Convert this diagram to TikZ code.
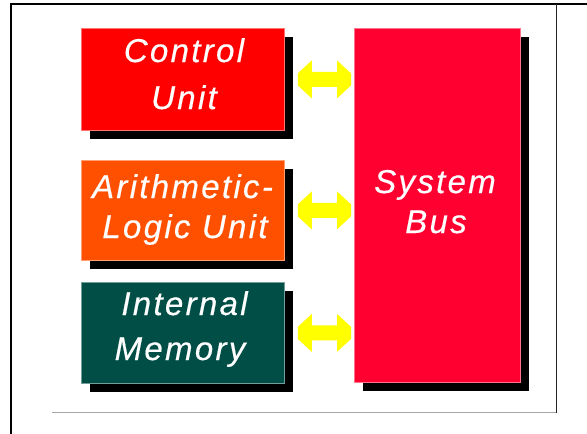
\documentclass[tikz,border=0pt]{standalone}
\usepackage{fontspec}
\setmainfont{Liberation Sans}
\usetikzlibrary{calc,shadows}
\definecolor{cured}{HTML}{FF0000}
\definecolor{alured}{HTML}{FF5000}
\definecolor{memteal}{HTML}{004E46}
\definecolor{busred}{HTML}{FF0030}
\definecolor{arrowyel}{HTML}{FFFF00}
\newcommand\busarrow[2]{%
  \fill[arrowfill] let \p1=(#1.east), \p2=(#2.west) in
   (\x1+13pt,\y1+6pt) -- (\x1+27pt,\y1+19pt) -- (\x1+27pt,\y1+7.5pt) -- (\x2-17pt,\y1+7.5pt)
   -- (\x2-17pt,\y1+19pt) -- (\x2-3pt,\y1+6pt) -- (\x2-3pt,\y1-6pt) -- (\x2-17pt,\y1-19pt)
   -- (\x2-17pt,\y1-7.5pt) -- (\x1+27pt,\y1-7.5pt) -- (\x1+27pt,\y1-19pt) -- (\x1+13pt,\y1-6pt) -- cycle;}
\tikzset{
  unitbox/.style={rectangle, anchor=north west, inner sep=0pt, line width=0.8pt,
    drop shadow={shadow xshift=9pt, shadow yshift=-9pt, fill=black, opacity=1}},
  lbl/.style={anchor=base, inner sep=0pt, text height=24pt, text depth=6pt, text=white,
    font=\itshape\fontsize{33}{38}\selectfont\addfontfeature{LetterSpace=7,FakeBold=0.4}},
  arrowfill/.style={fill=arrowyel},
}
\begin{document}
\begin{tikzpicture}[x=1pt,y=-1pt]
\useasboundingbox (0,0) rectangle (587,434);
% frame
\draw[line width=2pt] (11,434) -- (11,3.8) -- (587,3.8);
\draw[line width=1pt, black!85] (556,3.8) -- (556,413);
\draw[line width=1pt, black!35] (52,412.5) -- (556,412.5);
% boxes
\node[unitbox, fill=cured, draw=cured!55, minimum width=203pt, minimum height=102pt] (cu) at (81,28) {};
\node[unitbox, fill=alured, draw=alured!55, minimum width=203pt, minimum height=100pt] (alu) at (81,160) {};
\node[unitbox, fill=memteal, draw=memteal!55, minimum width=203pt, minimum height=101pt] (mem) at (81,282) {};
\node[unitbox, fill=busred, draw=busred!55, minimum width=166pt, minimum height=354pt] (bus) at (354,28) {};
% labels
\node[lbl] (cu1) at (184,62) {Control};
\node[lbl] (cu2) at (184,109) {Unit};
\node[lbl] (alu1) at (182.5,198) {Arithmetic-};
\node[lbl] (alu2) at (185,238) {Logic Unit};
\node[lbl] (mem1) at (184.5,315) {Internal};
\node[lbl] (mem2) at (180,360) {Memory};
\node[lbl] (bus1) at (435,193) {System};
\node[lbl] (bus2) at (436,233) {Bus};
% arrows
\busarrow{cu}{bus}
\busarrow{alu}{bus}
\busarrow{mem}{bus}
\end{tikzpicture}
\end{document}
